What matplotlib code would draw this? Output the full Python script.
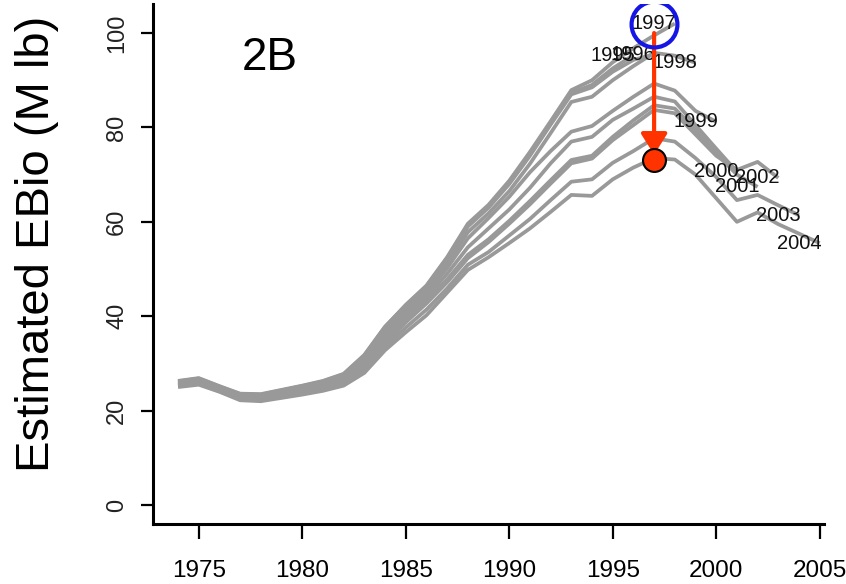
import matplotlib
matplotlib.use("Agg")
import matplotlib.pyplot as plt
from matplotlib import font_manager
import numpy as np

# pick a narrow face for ticks / year labels if we have one
names = {f.name for f in font_manager.fontManager.ttflist}
narrow = "Liberation Sans Narrow" if "Liberation Sans Narrow" in names else "Liberation Sans"
wide = "Liberation Sans"

# retrospective runs: terminal year -> estimated EBio from 1974 to terminal year + 1
first_year = 1974
terminal_years = [1995, 1996, 1997, 1998, 1999, 2000, 2001, 2002, 2003, 2004]

ebio_1995 = [26.3, 26.9, 25.2, 23.6, 23.5, 24.4, 25.3, 26.3, 27.8,
             31.8, 37.8, 42.3, 46.3, 52.3, 59.3, 63.3, 68.3, 74.3, 80.8, 87.3,
             89.0, 92.5, 95.3]
ebio_1996 = [26.1, 26.7, 25.0, 23.4, 23.3, 24.2, 25.1, 26.1, 27.6,
             31.5, 37.4, 42.0, 46.0, 52.0, 59.0, 63.0, 68.0, 74.0, 80.6, 87.0,
             88.5, 91.8, 94.3, 95.5]
ebio_1997 = [26.2, 26.8, 25.1, 23.5, 23.4, 24.3, 25.2, 26.2, 27.7,
             31.7, 37.7, 42.4, 46.5, 52.5, 59.6, 63.6, 68.7, 74.8, 81.3, 87.9,
             90.0, 93.8, 96.8, 99.5, 102.0]
ebio_1998 = [25.9, 26.5, 24.8, 23.2, 23.1, 23.9, 24.8, 25.8, 27.2,
             31.2, 37.0, 41.5, 45.5, 51.2, 57.8, 61.8, 66.5, 72.3, 78.8, 85.4,
             86.5, 90.0, 93.0, 95.8, 95.2, 93.7]
ebio_1999 = [25.8, 26.4, 24.7, 23.0, 22.9, 23.7, 24.6, 25.5, 26.9,
             30.6, 36.2, 40.7, 44.7, 50.2, 56.5, 60.8, 65.3, 70.5, 75.0, 79.1,
             80.3, 83.5, 86.5, 89.3, 87.8, 83.5, 81.2]
ebio_2000 = [25.6, 26.2, 24.5, 22.8, 22.7, 23.5, 24.3, 25.2, 26.5,
             30.0, 35.6, 40.0, 44.0, 49.0, 54.6, 58.6, 62.6, 67.2, 72.4, 77.0,
             78.0, 81.6, 84.0, 86.5, 85.5, 80.5, 75.5, 70.6]
ebio_2001 = [25.4, 26.0, 24.4, 22.6, 22.5, 23.3, 24.0, 24.9, 26.1,
             29.3, 34.7, 39.2, 43.2, 47.8, 53.0, 56.3, 60.2, 64.4, 68.8, 73.1,
             74.0, 78.0, 81.5, 84.7, 84.0, 79.5, 74.5, 70.0, 67.4]
ebio_2002 = [25.4, 25.9, 24.3, 22.6, 22.4, 23.2, 23.9, 24.8, 26.0,
             29.0, 34.3, 38.7, 42.7, 47.2, 52.3, 55.7, 59.6, 63.7, 68.1, 72.4,
             73.4, 77.3, 80.5, 83.7, 83.0, 78.5, 74.0, 71.0, 72.7, 69.3]
ebio_2003 = [25.2, 25.7, 24.1, 22.4, 22.2, 23.0, 23.7, 24.5, 25.7,
             28.5, 33.5, 37.6, 41.4, 45.9, 50.9, 53.6, 57.1, 60.6, 64.6, 68.5,
             69.0, 72.5, 75.0, 77.7, 77.0, 73.5, 69.5, 64.6, 65.7, 63.5, 61.4]
ebio_2004 = [25.0, 25.5, 24.0, 22.2, 22.0, 22.7, 23.4, 24.2, 25.3,
             28.0, 32.8, 36.6, 40.2, 45.0, 49.8, 52.5, 55.5, 58.6, 62.1, 65.7,
             65.5, 69.0, 71.5, 73.5, 73.2, 70.0, 65.0, 60.0, 62.0, 59.5, 57.5, 55.5]

runs = [ebio_1995, ebio_1996, ebio_1997, ebio_1998, ebio_1999,
        ebio_2000, ebio_2001, ebio_2002, ebio_2003, ebio_2004]

# highlighted year: first estimate vs latest estimate
focus_year = 1997
focus_first = 102.0
focus_arrow_top = 100.0
focus_latest = 73.0

x_ticks = [1975, 1980, 1985, 1990, 1995, 2000, 2005]
y_ticks = [0, 20, 40, 60, 80, 100]

fig = plt.figure(figsize=(8.46, 5.84), dpi=100)
ax = fig.add_axes([0.1811, 0.1022, 0.7927, 0.8904])

for ty, vals in zip(terminal_years, runs):
    yrs = np.arange(first_year, first_year + len(vals))
    ax.plot(yrs, vals, color="#999999", lw=2.7, solid_joinstyle="round",
            solid_capstyle="butt", zorder=2)
    ax.text(ty, vals[-1], str(ty), family=narrow, fontsize=14.5,
            color="#111111", ha="center", va="center", zorder=3)

ax.annotate("", xy=(focus_year, focus_latest + 1.2), xytext=(focus_year, focus_arrow_top),
            arrowprops=dict(arrowstyle="-|>,head_length=0.4,head_width=0.25",
                            color="#ff3300", lw=3, mutation_scale=32,
                            shrinkA=0, shrinkB=0), zorder=4)
ax.plot([focus_year], [focus_latest], "o", ms=16.5, mfc="#ff3300",
        mec="black", mew=1.5, zorder=5)
ax.plot([focus_year], [focus_first], "o", ms=33, mfc="none",
        mec="#1515e6", mew=3, zorder=5)

ax.text(1977.1, 92.2, "2B", family=wide, fontsize=33, ha="left",
        va="baseline", color="black")

ax.set_xlim(1972.8, 2005.2)
ax.set_ylim(-4.08, 106.08)
ax.set_xticks(x_ticks)
ax.set_yticks(y_ticks)
ax.set_xticklabels([str(t) for t in x_ticks], family=narrow, fontsize=17.5)
ax.set_yticklabels([str(t) for t in y_ticks], family=narrow, fontsize=17,
                   rotation=90, va="center", color="#222222")

for s in ["top", "right"]:
    ax.spines[s].set_visible(False)
for s in ["left", "bottom"]:
    ax.spines[s].set_linewidth(2.2)
ax.tick_params(axis="x", length=11, width=1.6, pad=15)
ax.tick_params(axis="y", length=9, width=1.6, pad=9)

fig.text(0.0437, 0.582, "Estimated EBio (M lb)", family=wide, fontsize=34,
         rotation=90, ha="center", va="center")

fig.savefig("out.png", dpi=100)
